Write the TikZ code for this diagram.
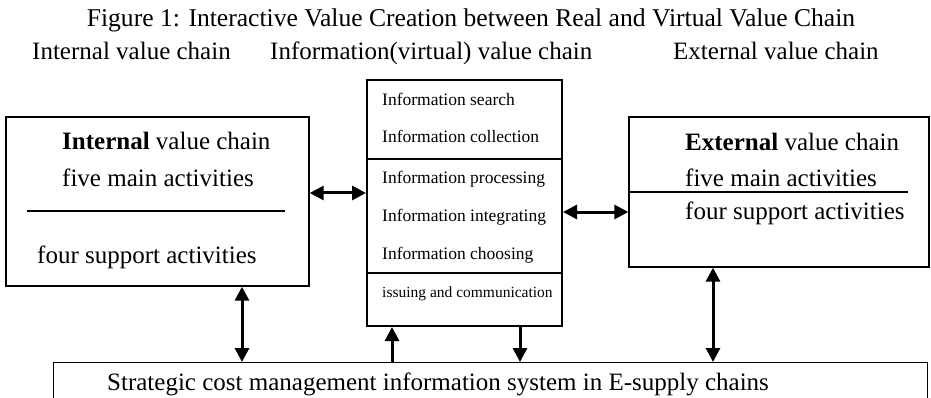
\documentclass[tikz,border=0pt]{standalone}
\usepackage{fontspec}
\setmainfont{Liberation Serif}
\usetikzlibrary{arrows.meta}
\tikzset{
  big/.style={font=\fontsize{25}{29}\selectfont, inner sep=0pt},
  small/.style={font=\fontsize{17.5}{20}\selectfont, inner sep=0pt, anchor=base west},
  tiny/.style={font=\fontsize{15.5}{18}\selectfont, inner sep=0pt, anchor=base west},
  frame/.style={draw, line width=1.4pt, inner sep=0pt},
  link/.style={line width=3pt, {Triangle[length=14pt,width=14pt]}-{Triangle[length=14pt,width=14pt]}},
  uplink/.style={line width=3pt, -{Triangle[length=14pt,width=14pt]}},
}
\begin{document}
\begin{tikzpicture}[x=1pt,y=-1pt]
\clip (0,0) rectangle (931,398);
\fill[white] (0,0) rectangle (931,398);

% title and column headings
\node[big, font=\fontsize{25.6}{30}\selectfont, anchor=base] (title) at (471,27) {Figure 1: Interactive Value Creation between Real and Virtual Value Chain};
\node[big, anchor=base west] (h1) at (32,60) {Internal value chain};
\node[big, anchor=base west] (h2) at (270,60) {Information(virtual) value chain};
\node[big, anchor=base west] (h3) at (673,60) {External value chain};

% internal value chain box
\node[frame, minimum width=303pt, minimum height=169pt] (lbox) at (157.5,201.5) {};
\node[big, anchor=base west] (l1) at (62,150) {\textbf{Internal} value chain};
\node[big, anchor=base west] (l2) at (62,187) {five main activities};
\node[big, anchor=base west] (l3) at (37,263) {four support activities};
\draw[line width=1.2pt] (27,211) -- (285,211);

% information (virtual) value chain box
\node[frame, line width=2pt, minimum width=195pt, minimum height=246pt] (mid) at (464.5,203) {};
\draw[line width=2pt] (mid.west |- 0,159) -- (mid.east |- 0,159);
\draw[line width=2pt] (mid.west |- 0,273) -- (mid.east |- 0,273);
\node[small] (m1) at (382,106) {Information search};
\node[small] (m2) at (382,143) {Information collection};
\node[small] (m3) at (382,183) {Information processing};
\node[small] (m4) at (382,221) {Information integrating};
\node[small] (m5) at (382,259) {Information choosing};
\node[tiny] (m6) at (382,297) {issuing and communication};

% external value chain box
\node[frame, minimum width=300pt, minimum height=150pt] (rbox) at (779,192) {};
\node[big, anchor=base west] (r1) at (685,151) {\textbf{External} value chain};
\node[big, anchor=base west] (r2) at (685,187) {five main activities};
\node[big, anchor=base west] (r3) at (685,219) {four support activities};
\draw[line width=1.2pt] (rbox.west |- 0,192) -- (908,192);

% information system box along the bottom
\node[frame, line width=1.2pt, anchor=north west, minimum width=874pt, minimum height=60pt] (sys) at (53,362) {};
\node[big, anchor=base west] (s1) at (107,390) {Strategic cost management information system in E-supply chains};

% connectors
\coordinate (ya) at (0,193);
\coordinate (yb) at (0,212);
\coordinate (xa) at (242,0);
\coordinate (xb) at (713,0);
\coordinate (xc) at (392,0);
\coordinate (xd) at (520,0);
\draw[link] (lbox.east |- ya) -- (mid.west |- ya);
\draw[link] (mid.east |- yb) -- (rbox.west |- yb);
\draw[link] (lbox.south -| xa) -- (sys.north -| xa);
\draw[link] (rbox.south -| xb) -- (sys.north -| xb);
\draw[uplink] (sys.north -| xc) -- (mid.south -| xc);
\draw[uplink] (mid.south -| xd) -- (sys.north -| xd);
\end{tikzpicture}
\end{document}
